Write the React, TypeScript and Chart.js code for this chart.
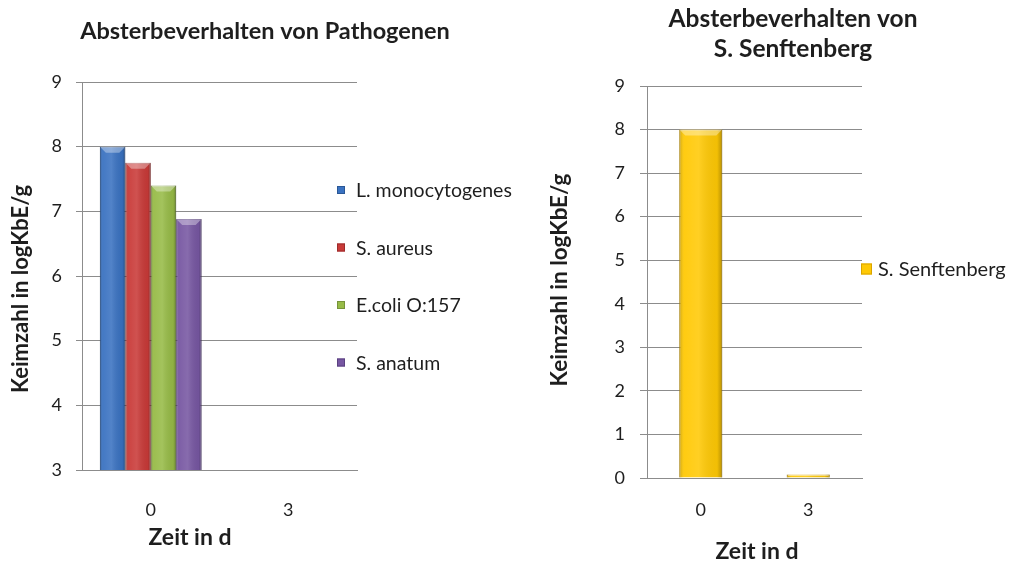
import React, { useEffect, useRef } from "react";
import { Chart, registerables } from "chart.js";

Chart.register(...registerables);

// ---------- DATA ----------
const leftCategories = ["0", "3"];
const leftSeriesNames = ["L. monocytogenes", "S. aureus", "E.coli O:157", "S. anatum"];
const lMonocytogenes = [8.0, null];
const sAureus = [7.75, null];
const eColi = [7.4, null];
const sAnatum = [6.88, null];
const leftColors = ["#3a72c1", "#c93a38", "#97bb47", "#7757a2"];
const leftBorders = ["#2a5796", "#9c2b2a", "#76933a", "#5a4180"];
const leftYMin = 3;
const leftYMax = 9;

const rightCategories = ["0", "3"];
const rightSeriesName = "S. Senftenberg";
const sSenftenberg = [8.0, 0.08];
const rightColor = "#ffc905";
const rightBorder = "#d9a400";
const rightYMin = 0;
const rightYMax = 9;

const leftTitle = "Absterbeverhalten von Pathogenen";
const rightTitle = ["Absterbeverhalten von", "S. Senftenberg"];
const yTitle = "Keimzahl in logKbE/g";
const xTitle = "Zeit in d";

const FONT = "Lato, 'Open Sans', 'DejaVu Sans', sans-serif";
const GRID = "#8c8c8c";
const TEXT = "#1e1e1e";

// ---------- PLUGINS ----------
const textsPlugin = {
  id: "texts",
  afterDraw(chart: any, _args: any, opts: any) {
    const ctx = chart.ctx;
    (opts.items || []).forEach((it: any) => {
      ctx.save();
      ctx.font = `${it.weight || "normal"} ${it.size}px ${FONT}`;
      ctx.fillStyle = TEXT;
      ctx.textAlign = "center";
      ctx.textBaseline = "middle";
      ctx.translate(it.x, it.y);
      if (it.rotate) ctx.rotate(it.rotate);
      ctx.fillText(it.text, 0, 0);
      ctx.restore();
    });
  },
};

const sideLegendPlugin = {
  id: "sideLegend",
  afterDraw(chart: any, _args: any, opts: any) {
    const ctx = chart.ctx;
    chart.data.datasets.forEach((ds: any, i: number) => {
      const y = opts.y + i * (opts.spacing || 0);
      const s = opts.box;
      ctx.save();
      ctx.fillStyle = ds.backgroundColor;
      ctx.fillRect(opts.x, y - s / 2, s, s);
      ctx.strokeStyle = ds.borderColor;
      ctx.lineWidth = 1;
      ctx.strokeRect(opts.x + 0.5, y - s / 2 + 0.5, s - 1, s - 1);
      ctx.font = `${opts.size}px ${FONT}`;
      ctx.fillStyle = TEXT;
      ctx.textAlign = "left";
      ctx.textBaseline = "middle";
      ctx.fillText(ds.label, opts.x + s + opts.gap, y + 1);
      ctx.restore();
    });
  },
};

const bevelPlugin = {
  id: "bevel",
  afterDatasetsDraw(chart: any) {
    const ctx = chart.ctx;
    const ca = chart.chartArea;
    ctx.save();
    ctx.beginPath();
    ctx.rect(ca.left, ca.top - 2, ca.right - ca.left, ca.bottom - ca.top + 2);
    ctx.clip();
    chart.data.datasets.forEach((_ds: any, i: number) => {
      const meta = chart.getDatasetMeta(i);
      meta.data.forEach((el: any) => {
        if (el.skip || el.y == null || isNaN(el.y)) return;
        const l = el.x - el.width / 2;
        const r = el.x + el.width / 2;
        const t = Math.min(el.y, el.base);
        const b = Math.min(Math.max(el.y, el.base), ca.bottom);
        if (b - t < 1) return;
        const g = ctx.createLinearGradient(l, 0, r, 0);
        g.addColorStop(0, "rgba(0,0,0,0.22)");
        g.addColorStop(0.12, "rgba(255,255,255,0.05)");
        g.addColorStop(0.45, "rgba(255,255,255,0.12)");
        g.addColorStop(0.88, "rgba(0,0,0,0.05)");
        g.addColorStop(1, "rgba(0,0,0,0.28)");
        ctx.fillStyle = g;
        ctx.fillRect(l, t, r - l, b - t);
        const bev = Math.min(6, (b - t) / 2);
        ctx.beginPath();
        ctx.moveTo(l, t);
        ctx.lineTo(r, t);
        ctx.lineTo(r - bev, t + bev);
        ctx.lineTo(l + bev, t + bev);
        ctx.closePath();
        ctx.fillStyle = "rgba(255,255,255,0.35)";
        ctx.fill();
      });
    });
    ctx.restore();
  },
};

function baseScales(min: number, max: number, yWidth: number, xHeight: number, tickLen: number, tickPad: number, xPad: number) {
  return {
    x: {
      afterFit: (s: any) => {
        s.height = xHeight;
      },
      grid: { display: false, drawTicks: false },
      border: { display: true, color: GRID },
      ticks: { color: TEXT, font: { family: FONT, size: 18 }, padding: xPad },
    },
    y: {
      min,
      max,
      afterFit: (s: any) => {
        s.width = yWidth;
      },
      grid: { color: GRID, lineWidth: 1, tickLength: tickLen, drawTicks: true },
      border: { display: true, color: GRID },
      ticks: { stepSize: 1, color: TEXT, font: { family: FONT, size: 18 }, padding: tickPad },
    },
  };
}

export default function App() {
  const leftRef = useRef<HTMLCanvasElement | null>(null);
  const rightRef = useRef<HTMLCanvasElement | null>(null);

  useEffect(() => {
    const leftSeries = [lMonocytogenes, sAureus, eColi, sAnatum];
    const left = new Chart(leftRef.current as HTMLCanvasElement, {
      type: "bar",
      data: {
        labels: leftCategories,
        datasets: leftSeries.map((d, i) => ({
          label: leftSeriesNames[i],
          data: d,
          backgroundColor: leftColors[i],
          borderColor: leftBorders[i],
          borderWidth: 1,
          categoryPercentage: 0.74,
          barPercentage: 1.0,
        })),
      },
      options: {
        responsive: false,
        animation: false,
        layout: { padding: { top: 82, left: 0, right: 530 - 357, bottom: 0 } },
        plugins: {
          legend: { display: false },
          tooltip: { enabled: false },
          title: { display: false },
          texts: {
            items: [
              { text: leftTitle, x: 265, y: 31, size: 23.5, weight: "bold" },
              { text: yTitle, x: 21, y: 289, size: 22, weight: "bold", rotate: -Math.PI / 2 },
              { text: xTitle, x: 190, y: 538, size: 23, weight: "bold" },
            ],
          },
          sideLegend: { x: 337, y: 190, spacing: 57.5, box: 8, gap: 11, size: 19.5 },
        } as any,
        scales: baseScales(leftYMin, leftYMax, 82, 94, 6, 14, 29) as any,
      },
      plugins: [textsPlugin, sideLegendPlugin, bevelPlugin],
    });

    const right = new Chart(rightRef.current as HTMLCanvasElement, {
      type: "bar",
      data: {
        labels: rightCategories,
        datasets: [
          {
            label: rightSeriesName,
            data: sSenftenberg,
            backgroundColor: rightColor,
            borderColor: rightBorder,
            borderWidth: 1,
            categoryPercentage: 0.4,
            barPercentage: 1.0,
          },
        ],
      },
      options: {
        responsive: false,
        animation: false,
        layout: { padding: { top: 86, left: 0, right: 481 - 332, bottom: 0 } },
        plugins: {
          legend: { display: false },
          tooltip: { enabled: false },
          title: { display: false },
          texts: {
            items: [
              { text: rightTitle[0], x: 263, y: 19, size: 24.5, weight: "bold" },
              { text: rightTitle[1], x: 263, y: 49, size: 24.5, weight: "bold" },
              { text: yTitle, x: 30, y: 280, size: 22.5, weight: "bold", rotate: -Math.PI / 2 },
              { text: xTitle, x: 227, y: 552, size: 23, weight: "bold" },
            ],
          },
          sideLegend: { x: 331, y: 269, spacing: 0, box: 11, gap: 6, size: 20 },
        } as any,
        scales: baseScales(rightYMin, rightYMax, 117, 86, 7, 15, 21) as any,
      },
      plugins: [textsPlugin, sideLegendPlugin, bevelPlugin],
    });

    return () => {
      left.destroy();
      right.destroy();
    };
  }, []);

  return (
    <div style={{ position: "absolute", left: 0, top: 0, width: 1011, height: 564, background: "#ffffff" }}>
      <canvas ref={leftRef} width={530} height={564} style={{ position: "absolute", left: 0, top: 0 }} />
      <canvas ref={rightRef} width={481} height={564} style={{ position: "absolute", left: 530, top: 0 }} />
    </div>
  );
}
